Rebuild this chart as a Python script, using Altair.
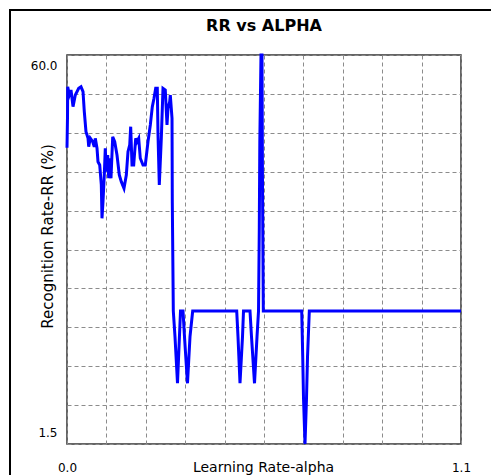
import altair as alt
import pandas as pd

# Learning rate (alpha) sweep and the recognition rate RR (%) measured at each step
alpha = [
    0.0, 0.0014, 0.0020, 0.0064, 0.0112, 0.0168, 0.0232, 0.0327, 0.0391, 0.0447,
    0.0483, 0.0530, 0.0586, 0.0606, 0.0651, 0.0718, 0.0762, 0.0790, 0.0838, 0.0865,
    0.0913, 0.0958, 0.0977, 0.1005, 0.1041, 0.1069, 0.1097, 0.1136, 0.1164, 0.1192,
    0.1228, 0.1276, 0.1332, 0.1396, 0.1460, 0.1516, 0.1591, 0.1656, 0.1703, 0.1751,
    0.1778, 0.1815, 0.1862, 0.1918, 0.1954, 0.2002, 0.2046, 0.2122, 0.2186, 0.2261,
    0.2326, 0.2382, 0.2429, 0.2476, 0.2521, 0.2541, 0.2577, 0.2633, 0.2680, 0.2744,
    0.2792, 0.2820, 0.2867, 0.2884, 0.2932, 0.2940, 0.2968, 0.3015, 0.3085, 0.3169,
    0.3239, 0.3280, 0.3364, 0.3434, 0.3509, 0.4738, 0.4774, 0.4830, 0.4900, 0.4928,
    0.5109, 0.5151, 0.5235, 0.5305, 0.5347, 0.5369, 0.5383, 0.5416, 0.5444, 0.5458,
    0.5481, 0.6553, 0.6581, 0.6603, 0.6645, 0.6687, 0.6715, 0.6765, 1.1,
]
rr = [
    46.06, 50.68, 55.23, 53.98, 54.74, 52.23, 53.98, 54.99, 55.23, 54.48,
    51.47, 48.47, 47.52, 46.21, 47.47, 46.96, 46.21, 47.47, 45.97, 43.95,
    43.46, 40.45, 35.44, 37.94, 41.95, 45.97, 42.45, 44.96, 41.46, 44.47,
    41.46, 47.71, 46.96, 44.96, 41.95, 40.95, 39.95, 41.95, 45.46, 46.47,
    49.22, 43.46, 43.46, 47.47, 46.96, 47.47, 44.47, 43.46, 43.46, 46.96,
    49.47, 52.23, 53.49, 54.99, 54.99, 47.97, 40.45, 47.47, 54.99, 54.74,
    49.47, 51.98, 52.98, 53.98, 50.48, 37.74, 21.5, 17.64, 10.63, 21.5,
    21.5, 17.64, 10.63, 17.64, 21.5, 21.5, 17.64, 10.63, 17.64, 21.5,
    21.5, 17.64, 10.63, 17.64, 21.5, 34.18, 46.96, 60.0, 60.0, 40.71,
    21.5, 21.5, 14.63, 8.42, 1.5, 8.42, 14.63, 21.5, 21.5,
]

# Grid positions: ten equal divisions on each axis, labels only at the ends
x_ticks = [0.0, 0.11, 0.22, 0.33, 0.44, 0.55, 0.66, 0.77, 0.88, 0.99, 1.1]
y_ticks = [1.5, 7.35, 13.2, 19.05, 24.9, 30.75, 36.6, 42.45, 48.3, 54.15, 60.0]

df = pd.DataFrame({"alpha": alpha, "rr": rr, "step": list(range(len(alpha)))})

FONT = "DejaVu Sans"
GRID = "#8c8c8c"

x_axis = alt.Axis(
    values=x_ticks,
    labelExpr="datum.value == 0 || datum.value == 1.1 ? format(datum.value, '.1f') : ''",
    grid=True, gridDash=[4, 3], gridColor=GRID, gridWidth=1,
    domain=False, ticks=False, tickSize=0,
    labelFlush=False, labelOverlap=False,
    labelBaseline="middle", labelPadding=23,
    labelFont=FONT, labelFontSize=12, labelColor="black",
    title="Learning Rate-alpha", titleFont=FONT, titleFontSize=14,
    titleFontWeight="normal", titleColor="black",
    titleX=196, titleY=23, titleBaseline="middle", titleAlign="center",
)

y_axis = alt.Axis(
    values=y_ticks,
    labelExpr="datum.value == 1.5 || datum.value == 60 ? format(datum.value, '.1f') : ''",
    grid=True, gridDash=[4, 3], gridColor=GRID, gridWidth=1,
    domain=False, ticks=False, tickSize=0,
    labelFlush=True, labelFlushOffset=-5, labelOverlap=False,
    labelPadding=10,
    labelFont=FONT, labelFontSize=12, labelColor="black",
    title="Recognition Rate-RR (%)", titleFont=FONT, titleFontSize=15,
    titleFontWeight="normal", titleColor="black",
    titleX=-20, titleY=181, titleAngle=270,
    titleBaseline="middle", titleAlign="center",
)

line = alt.Chart(df).mark_line(
    color="#0000ff", strokeWidth=3, clip=False
).encode(
    x=alt.X("alpha:Q", scale=alt.Scale(domain=[0, 1.1], nice=False, zero=False), axis=x_axis),
    y=alt.Y("rr:Q", scale=alt.Scale(domain=[1.5, 60.0], nice=False, zero=False), axis=y_axis),
    order="step:Q",
)

# Outer panel border around the whole figure
frame = alt.Chart(alt.Data(values=[{}])).mark_rect(
    filled=False, stroke="black", strokeWidth=2, clip=False
).encode(
    x=alt.value(-57), x2=alt.value(700), y=alt.value(-45), y2=alt.value(700)
)

chart = alt.layer(frame, line).properties(
    width=394,
    height=389,
    padding={"left": 67, "top": 55, "right": 30, "bottom": 31},
    autosize=alt.AutoSizeParams(type="none"),
    title=alt.TitleParams(
        "RR vs ALPHA", font=FONT, fontSize=16, fontWeight="bold", color="black",
        anchor="middle", frame="group", offset=0, baseline="alphabetic", dy=38,
    ),
).configure(background="white").configure_view(stroke="#333333", strokeWidth=1.5)

chart.save("out.html", embed_options={"renderer": "svg", "actions": False})
